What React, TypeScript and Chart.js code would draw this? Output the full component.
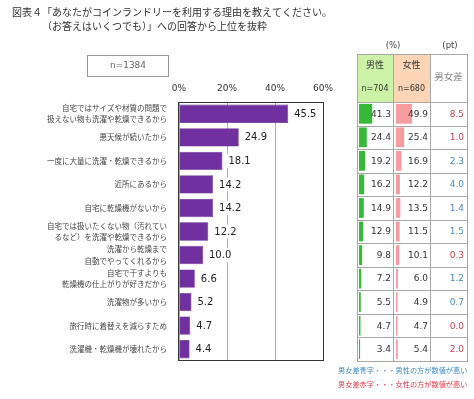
import React, { useEffect, useRef } from 'react';
import { Chart, registerables } from 'chart.js';
Chart.register(...registerables);

const titleLines = [
  '図表４「あなたがコインランドリーを利用する理由を教えてください。',
  '（お答えはいくつでも）」への回答から上位を抜粋',
];
const sampleLabel = 'n=1384';
const categories: (string | string[])[] = [
  ['自宅ではサイズや材質の問題で', '扱えない物も洗濯や乾燥できるから'],
  '悪天候が続いたから',
  '一度に大量に洗濯・乾燥できるから',
  '近所にあるから',
  '自宅に乾燥機がないから',
  ['自宅では扱いたくない物（汚れてい', 'るなど）を洗濯や乾燥できるから'],
  ['洗濯から乾燥まで', '自動でやってくれるから'],
  ['自宅で干すよりも', '乾燥機の仕上がりが好きだから'],
  '洗濯物が多いから',
  '旅行時に着替えを減らすため',
  '洗濯機・乾燥機が壊れたから',
];
const totalValues = [45.5, 24.9, 18.1, 14.2, 14.2, 12.2, 10.0, 6.6, 5.2, 4.7, 4.4];
const maleValues = [41.3, 24.4, 19.2, 16.2, 14.9, 12.9, 9.8, 7.2, 5.5, 4.7, 3.4];
const femaleValues = [49.9, 25.4, 16.9, 12.2, 13.5, 11.5, 10.1, 6.0, 4.9, 4.7, 5.4];
const diffValues = [8.5, 1.0, 2.3, 4.0, 1.4, 1.5, 0.3, 1.2, 0.7, 0.0, 2.0];
const xTickValues = [0, 20, 40, 60];
const maleHeader = ['男性', 'n=704'];
const femaleHeader = ['女性', 'n=680'];
const diffHeader = '男女差';
const unitPercent = '(%)';
const unitPoint = '(pt)';
const legendBlue = '男女差青字・・・男性の方が数値が高い';
const legendRed = '男女差赤字・・・女性の方が数値が高い';

const W = 474;
const H = 399;
const PLOT_LEFT = 179;
const PLOT_TOP = 102;
const PLOT_RIGHT = 323;
const PLOT_BOTTOM = 361;
const X_AXIS_H = 22;
const COLS = [357, 393, 430, 467];
const HEADER_TOP = 54;
const MINI_W = 32;

const JP = '"Noto Sans CJK JP", "Noto Sans", sans-serif';
const NUM = '"DejaVu Sans", sans-serif';
const RED = '#d0404e';
const BLUE = '#4a8ac4';

function MiniBars({ values, color, left }: { values: number[]; color: string; left: number }) {
  const ref = useRef<HTMLCanvasElement | null>(null);
  useEffect(() => {
    if (!ref.current) return;
    const chart = new Chart(ref.current, {
      type: 'bar',
      data: {
        labels: categories.map((_, i) => String(i)),
        datasets: [{ data: values, backgroundColor: color, barPercentage: 0.84, categoryPercentage: 1 }],
      },
      options: {
        indexAxis: 'y',
        responsive: false,
        animation: false,
        events: [],
        layout: { padding: 0 },
        plugins: { legend: { display: false }, tooltip: { enabled: false } },
        scales: {
          x: { display: false, min: 0, max: 100 },
          y: { display: false },
        },
      },
    });
    return () => chart.destroy();
  }, []);
  return (
    <canvas
      ref={ref}
      width={MINI_W}
      height={PLOT_BOTTOM - PLOT_TOP}
      style={{ position: 'absolute', left, top: PLOT_TOP, zIndex: 1 }}
    />
  );
}

export default function App() {
  const ref = useRef<HTMLCanvasElement | null>(null);
  useEffect(() => {
    if (!ref.current) return;
    const decor = {
      id: 'decor',
      afterDatasetsDraw(chart: any) {
        const ctx = chart.ctx;
        const meta = chart.getDatasetMeta(0);
        ctx.save();
        ctx.font = `10px ${NUM}`;
        ctx.textBaseline = 'middle';
        ctx.textAlign = 'left';
        meta.data.forEach((bar: any, i: number) => {
          const txt = totalValues[i].toFixed(1);
          const w = ctx.measureText(txt).width;
          ctx.fillStyle = '#ffffff';
          ctx.fillRect(bar.x + 1, bar.y - 7, w + 9, 14);
          ctx.fillStyle = '#222';
          ctx.fillText(txt, bar.x + 6, bar.y + 0.5);
        });
        ctx.restore();
      },
      afterDraw(chart: any) {
        const ctx = chart.ctx;
        const ca = chart.chartArea;
        const ys = chart.scales.y;
        ctx.save();
        // title
        ctx.fillStyle = '#333';
        ctx.font = `10px ${JP}`;
        ctx.textBaseline = 'middle';
        ctx.textAlign = 'left';
        ctx.fillText(titleLines[0], 12, 12);
        ctx.fillText(titleLines[1], 42, 26.5);
        // n box
        ctx.strokeStyle = '#999';
        ctx.lineWidth = 1;
        ctx.strokeRect(87.5, 55.5, 81, 21);
        ctx.fillStyle = '#666';
        ctx.font = `9px ${NUM}`;
        ctx.textAlign = 'center';
        ctx.fillText(sampleLabel, 128, 66);
        // plot border
        ctx.strokeStyle = '#333';
        ctx.strokeRect(Math.round(ca.left) - 0.5, Math.round(ca.top) + 0.5, Math.round(ca.right - ca.left) + 1, Math.round(ca.bottom - ca.top) - 1);
        // table
        const n = categories.length;
        const c0 = ys.getPixelForValue(0);
        const step = ys.getPixelForValue(1) - c0;
        const top = c0 - step / 2;
        const bottom = ys.getPixelForValue(n - 1) + step / 2;
        ctx.fillStyle = '#ccf2a8';
        ctx.fillRect(COLS[0], HEADER_TOP, COLS[1] - COLS[0], top - HEADER_TOP);
        ctx.fillStyle = '#fcd5b6';
        ctx.fillRect(COLS[1], HEADER_TOP, COLS[2] - COLS[1], top - HEADER_TOP);
        ctx.strokeStyle = '#a8a8a8';
        ctx.lineWidth = 1;
        ctx.beginPath();
        COLS.forEach((x) => {
          ctx.moveTo(x + 0.5, HEADER_TOP);
          ctx.lineTo(x + 0.5, bottom);
        });
        ctx.moveTo(COLS[0], HEADER_TOP + 0.5);
        ctx.lineTo(COLS[3] + 1, HEADER_TOP + 0.5);
        for (let i = 0; i <= n; i++) {
          const y = Math.round(top + i * step) + 0.5;
          ctx.moveTo(COLS[0], y);
          ctx.lineTo(COLS[3] + 1, y);
        }
        ctx.stroke();
        // header texts
        ctx.textAlign = 'center';
        ctx.fillStyle = '#333';
        ctx.font = `9px ${JP}`;
        ctx.fillText(maleHeader[0], (COLS[0] + COLS[1]) / 2, 65);
        ctx.fillText(femaleHeader[0], (COLS[1] + COLS[2]) / 2, 65);
        ctx.font = `8px ${NUM}`;
        ctx.fillText(maleHeader[1], (COLS[0] + COLS[1]) / 2, 89);
        ctx.fillText(femaleHeader[1], (COLS[1] + COLS[2]) / 2, 89);
        ctx.fillStyle = '#888';
        ctx.font = `9.5px ${JP}`;
        ctx.fillText(diffHeader, (COLS[2] + COLS[3]) / 2, 76);
        ctx.fillStyle = '#444';
        ctx.font = `8.5px ${NUM}`;
        ctx.fillText(unitPercent, COLS[1], 46);
        ctx.fillText(unitPoint, 450, 46);
        // cell values
        ctx.textAlign = 'right';
        ctx.font = `9px ${NUM}`;
        for (let i = 0; i < n; i++) {
          const y = ys.getPixelForValue(i) + 0.5;
          ctx.fillStyle = '#333';
          ctx.fillText(maleValues[i].toFixed(1), COLS[1] - 2, y);
          ctx.fillText(femaleValues[i].toFixed(1), COLS[2] - 2, y);
          ctx.fillStyle = femaleValues[i] >= maleValues[i] ? RED : BLUE;
          ctx.fillText(diffValues[i].toFixed(1), COLS[3] - 3, y);
        }
        // legend
        ctx.textAlign = 'left';
        ctx.font = `7.2px ${JP}`;
        ctx.fillStyle = '#3a8ac8';
        ctx.fillText(legendBlue, 338, 370);
        ctx.fillStyle = '#e03848';
        ctx.fillText(legendRed, 338, 384);
        ctx.restore();
      },
    };
    const chart = new Chart(ref.current, {
      type: 'bar',
      data: {
        labels: categories,
        datasets: [
          {
            data: totalValues,
            backgroundColor: '#7030a0',
            borderColor: '#5e2489',
            borderWidth: 0.6,
            barPercentage: 0.78,
            categoryPercentage: 1,
          },
        ],
      },
      options: {
        indexAxis: 'y',
        responsive: false,
        animation: false,
        events: [],
        layout: { padding: { left: 0, top: PLOT_TOP - X_AXIS_H, right: W - PLOT_RIGHT, bottom: H - PLOT_BOTTOM } },
        plugins: { legend: { display: false }, tooltip: { enabled: false } },
        scales: {
          x: {
            position: 'top',
            min: 0,
            max: 60,
            afterFit: (s: any) => {
              s.height = X_AXIS_H;
            },
            afterBuildTicks: (s: any) => {
              s.ticks = xTickValues.map((v) => ({ value: v }));
            },
            ticks: {
              callback: (v: any) => `${v}%`,
              font: { family: NUM, size: 9 },
              color: '#333',
              padding: 8,
              maxRotation: 0,
            },
            grid: { color: '#b0b0b0', drawTicks: false },
            border: { display: false },
          },
          y: {
            afterFit: (s: any) => {
              s.width = PLOT_LEFT;
            },
            ticks: {
              font: { family: JP, size: 7.5, lineHeight: 1.55 },
              color: '#444',
              padding: 12,
              autoSkip: false,
            },
            grid: { display: false, drawTicks: false },
            border: { display: false },
          },
        },
      },
      plugins: [decor],
    });
    return () => chart.destroy();
  }, []);
  return (
    <div style={{ position: 'absolute', left: 0, top: 0, width: W, height: H, background: '#fff' }}>
      <MiniBars values={maleValues} color="#38b838" left={COLS[0] + 2} />
      <MiniBars values={femaleValues} color="#f49ca0" left={COLS[1] + 3} />
      <canvas ref={ref} width={W} height={H} style={{ position: 'absolute', left: 0, top: 0, zIndex: 2 }} />
    </div>
  );
}
